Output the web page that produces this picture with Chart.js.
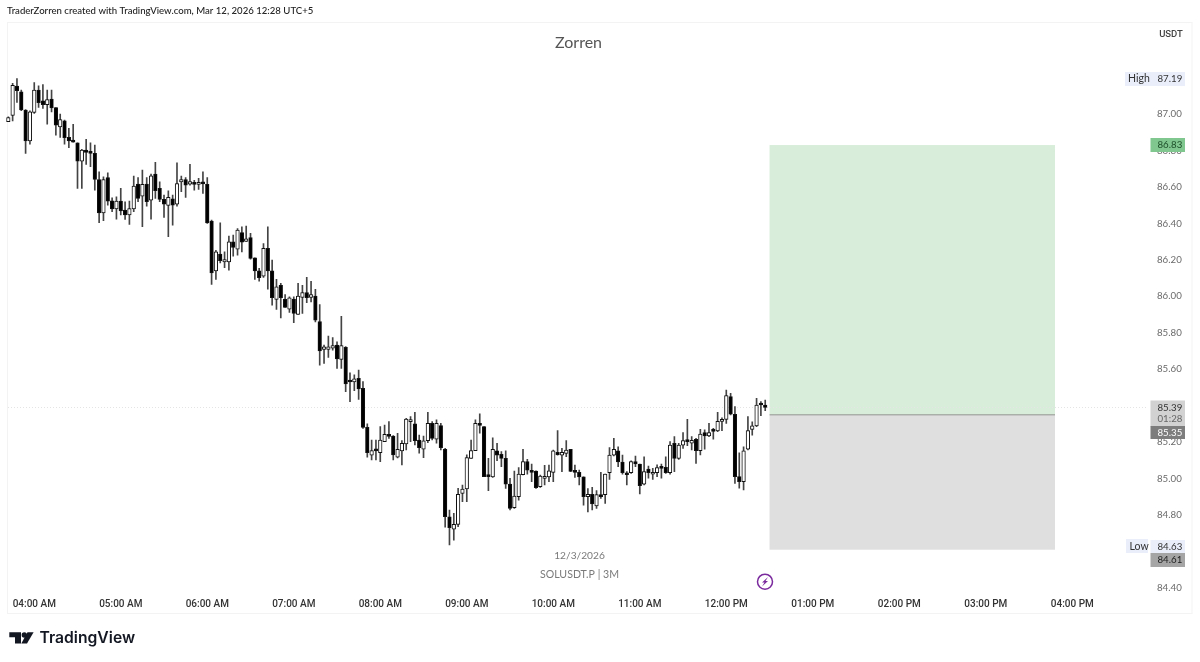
<!DOCTYPE html>
<html><head><meta charset="utf-8">
<style>html,body{margin:0;padding:0;background:#fff;overflow:hidden}canvas{display:block}</style>
<script src="https://cdn.jsdelivr.net/npm/chart.js@4"></script></head>
<body><canvas id="c" width="1200" height="662"></canvas>
<script>
const opens=[86.958,86.992,87.153,87.122,87.022,86.852,87.009,87.131,87.073,87.051,
87.082,87.036,86.930,86.963,86.872,86.857,86.842,86.742,86.802,86.791,
86.784,86.641,86.458,86.652,86.524,86.479,86.522,86.473,86.447,86.479,
86.616,86.550,86.616,86.528,86.671,86.592,86.532,86.499,86.535,86.506,
86.628,86.641,86.616,86.621,86.614,86.623,86.614,86.413,86.140,86.232,
86.189,86.189,86.299,86.259,86.350,86.301,86.323,86.211,86.140,86.111,
86.263,86.140,85.983,86.061,85.983,85.930,85.985,85.901,85.994,86.021,
85.994,86.001,85.862,85.709,85.709,85.716,85.732,85.654,85.720,85.536,
85.530,85.550,85.495,85.281,85.128,85.161,85.143,85.203,85.243,85.234,
85.117,85.152,85.190,85.313,85.300,85.212,85.161,85.208,85.303,85.217,
85.291,85.161,84.791,84.722,84.749,84.919,84.943,85.111,85.154,85.303,
85.285,85.015,85.010,85.153,85.133,85.111,84.970,84.840,84.901,85.021,
85.093,85.042,85.042,84.956,85.001,85.010,85.034,85.144,85.129,85.138,
85.160,85.043,85.034,85.010,84.901,84.914,84.850,84.912,84.912,85.032,
85.129,85.153,85.091,85.032,85.033,85.093,85.080,84.969,85.053,85.024,
85.033,85.060,85.062,85.033,85.194,85.111,85.183,85.210,85.194,85.216,
85.153,85.252,85.234,85.263,85.261,85.314,85.325,85.450,85.353,85.011,
84.983,85.161,85.270,85.289,85.409,85.404];
const closes=[86.980,87.157,87.128,87.022,86.852,87.012,87.131,87.062,87.051,87.080,
87.034,86.939,86.970,86.870,86.852,86.846,86.742,86.802,86.789,86.784,
86.641,86.458,86.641,86.522,86.479,86.522,86.469,86.447,86.482,86.605,
86.537,86.614,86.519,86.661,86.579,86.532,86.506,86.543,86.500,86.619,
86.641,86.610,86.630,86.614,86.621,86.617,86.403,86.129,86.244,86.195,
86.202,86.299,86.268,86.363,86.297,86.316,86.208,86.140,86.102,86.263,
86.140,85.992,86.052,85.992,85.939,85.992,85.906,86.001,86.021,85.992,
86.010,85.869,85.701,85.723,85.723,85.730,85.656,85.730,85.519,85.530,
85.548,85.492,85.281,85.143,85.154,85.152,85.212,85.243,85.232,85.130,
85.161,85.194,85.327,85.318,85.208,85.170,85.207,85.303,85.221,85.303,
85.170,84.791,84.731,84.749,84.914,84.943,85.115,85.154,85.303,85.292,
85.011,85.011,85.160,85.129,85.111,84.970,84.837,84.904,85.025,85.093,
85.047,85.034,84.950,85.014,85.012,85.043,85.153,85.131,85.144,85.157,
85.040,85.034,85.009,84.901,84.914,84.861,84.912,84.901,85.025,85.129,
85.160,85.091,85.032,85.021,85.093,85.080,84.961,85.038,85.033,85.035,
85.060,85.056,85.033,85.184,85.111,85.184,85.208,85.203,85.210,85.153,
85.245,85.234,85.252,85.259,85.314,85.325,85.455,85.353,85.011,84.983,
85.153,85.263,85.290,85.404,85.404,85.390];
const highs=[86.985,87.168,87.195,87.131,87.025,87.018,87.172,87.155,87.162,87.131,
87.131,87.036,87.000,86.967,86.921,86.943,86.842,86.806,86.862,86.842,
86.830,86.683,86.656,86.678,86.541,86.546,86.592,86.519,86.522,86.660,
86.652,86.692,86.652,86.671,86.735,86.628,86.555,86.579,86.555,86.733,
86.660,86.652,86.724,86.637,86.647,86.683,86.652,86.418,86.253,86.403,
86.244,86.330,86.336,86.372,86.381,86.385,86.345,86.211,86.153,86.290,
86.381,86.199,86.093,86.071,86.010,85.997,85.997,86.071,86.061,86.104,
86.083,86.038,85.955,85.732,85.782,85.774,85.751,85.891,85.724,85.581,
85.569,85.596,85.532,85.300,85.212,85.212,85.285,85.294,85.313,85.236,
85.249,85.208,85.331,85.340,85.364,85.239,85.234,85.364,85.313,85.322,
85.303,85.166,84.828,84.810,84.947,84.965,85.130,85.212,85.322,85.355,
85.285,85.111,85.224,85.193,85.148,85.153,85.001,85.042,85.060,85.160,
85.106,85.080,85.043,85.020,85.073,85.074,85.157,85.263,85.166,85.208,
85.160,85.074,85.047,85.010,84.946,84.952,84.934,85.034,85.025,85.170,
85.221,85.175,85.129,85.038,85.097,85.124,85.080,85.120,85.069,85.056,
85.075,85.080,85.120,85.203,85.230,85.194,85.252,85.325,85.230,85.221,
85.270,85.267,85.303,85.276,85.364,85.334,85.486,85.468,85.395,85.142,
85.175,85.340,85.312,85.440,85.422,85.431];
const lows=[86.958,86.963,87.064,87.018,86.784,86.835,87.003,87.036,87.031,86.945,
87.012,86.884,86.872,86.835,86.815,86.846,86.592,86.592,86.724,86.711,
86.583,86.404,86.415,86.500,86.464,86.424,86.446,86.422,86.394,86.464,
86.519,86.382,86.495,86.424,86.537,86.519,86.433,86.327,86.391,86.495,
86.574,86.543,86.610,86.583,86.586,86.564,86.400,86.065,86.093,86.184,
86.157,86.144,86.221,86.226,86.244,86.301,86.204,86.093,86.083,86.104,
86.040,85.952,85.928,85.882,85.939,85.912,85.855,85.901,85.906,85.965,
85.970,85.860,85.623,85.632,85.665,85.705,85.604,85.604,85.477,85.422,
85.483,85.435,85.276,85.117,85.102,85.102,85.093,85.203,85.221,85.102,
85.113,85.075,85.157,85.203,85.185,85.139,85.115,85.197,85.212,85.194,
85.157,84.733,84.636,84.663,84.737,84.874,84.874,85.111,85.154,85.249,
85.011,84.934,85.007,85.098,85.065,84.946,84.828,84.837,84.882,85.020,
85.025,84.983,84.946,84.952,84.965,84.983,84.983,85.129,85.038,85.120,
85.038,85.007,84.965,84.855,84.818,84.828,84.837,84.892,84.864,84.996,
85.124,85.065,85.025,84.965,85.029,85.066,84.916,84.965,85.002,84.996,
85.011,85.002,85.029,85.025,85.038,85.106,85.166,85.181,85.157,85.084,
85.130,85.162,85.230,85.216,85.258,85.263,85.303,85.349,84.974,84.947,
84.938,85.157,85.239,85.285,85.345,85.373];

const hourLabels=["04:00 AM","05:00 AM","06:00 AM","07:00 AM","08:00 AM","09:00 AM","10:00 AM","11:00 AM","12:00 PM","01:00 PM","02:00 PM","03:00 PM","04:00 PM"];
const slotCount=264, firstHourSlot=6, slotsPerHour=20;
const categories=Array.from({length:slotCount},(_,i)=>{
  const k=i-firstHourSlot; return (k>=0&&k%slotsPerHour===0)?(hourLabels[k/slotsPerHour]||''):'';
});
const targetPrice=86.83, entryPrice=85.35, stopPrice=84.61, lastPrice=85.39;
const positionSlots=[176,242];
const F='Roboto, "Open Sans", sans-serif';
const L='Lato, "Open Sans", sans-serif';

const extras={id:'extras',
  beforeDatasetsDraw(ch){
    const {ctx,scales:{x,y},chartArea:a}=ch;
    const x0=x.getPixelForValue(positionSlots[0]), x1=x.getPixelForValue(positionSlots[1]);
    ctx.save();
    ctx.fillStyle='#d8eeda';ctx.fillRect(x0,y.getPixelForValue(targetPrice),x1-x0,y.getPixelForValue(entryPrice)-y.getPixelForValue(targetPrice));
    ctx.fillStyle='#dfdfdf';ctx.fillRect(x0,y.getPixelForValue(entryPrice),x1-x0,y.getPixelForValue(stopPrice)-y.getPixelForValue(entryPrice));
    ctx.fillStyle='#8f938f';ctx.fillRect(x0,y.getPixelForValue(entryPrice)-0.5,x1-x0,1);
    ctx.strokeStyle='#e4e4e4';ctx.setLineDash([1,2]);ctx.lineWidth=1;
    const ly=Math.round(y.getPixelForValue(lastPrice))-.5;
    ctx.beginPath();ctx.moveTo(8,ly);ctx.lineTo(a.right,ly);ctx.stroke();
    ctx.restore();
  },
  beforeDraw(ch){
    const {ctx}=ch;ctx.save();
    ctx.strokeStyle='#f3f3f3';ctx.lineWidth=1;ctx.strokeRect(7.5,22.5,1184.5,591);
    ctx.restore();
  },
  afterDraw(ch){
    const {ctx}=ch;ctx.save();
    const txt=(s,x,yy,font,col,al='left')=>{ctx.font=font;ctx.fillStyle=col;ctx.textAlign=al;ctx.textBaseline='middle';ctx.fillText(s,x,yy);};
    const box=(x,yy,w,h,c)=>{ctx.fillStyle=c;ctx.fillRect(x,yy,w,h);};
    const lab='9.7px '+L;
    txt('TraderZorren created with TradingView.com, Mar 12, 2026 12:28 UTC+5',7,11,'500 9.6px '+L,'#222');
    txt('Zorren',578.5,42.5,'16px '+L,'#555','center');
    txt('12/3/2026',579.5,555.5,'10.2px '+L,'#7a7a7a','center');
    txt('SOLUSDT.P | 3M',579.5,574.5,'10.6px '+L,'#7a7a7a','center');
    box(1154,25,36,20,'#ffffff');
    txt('USDT',1171,35,'500 9.5px '+F,'#444','center');
    box(1125,72,60,14,'#e9eefa');
    txt('High',1128,78.5,'10.5px '+L,'#333');txt('87.19',1157.5,79,lab,'#333');
    box(1150.5,138,34.5,14,'#7fc78f');txt('86.83',1157.5,145,lab,'#1f4f2a');
    box(1150.5,400.5,34.5,26,'#d2d2d2');box(1150.5,426,34.5,13,'#7d7d7d');
    txt('85.39',1157.5,408,lab,'#333');txt('01:28',1157.5,419,lab,'#666');txt('85.35',1157.5,432.5,lab,'#fff');
    box(1126,539,22,14,'#e9eefa');box(1150.5,540,34.5,13,'#e9eefa');
    txt('Low',1129.5,546.5,'10.5px '+L,'#333');txt('84.63',1157.5,547,lab,'#333');
    box(1150.5,553,34.5,14,'#a5a5a5');txt('84.61',1157.5,560,lab,'#222');
    ctx.strokeStyle='#7b2a9e';ctx.lineWidth=1.5;ctx.beginPath();ctx.arc(765,581.7,7.5,0,Math.PI*2);ctx.stroke();
    ctx.fillStyle='#7b2a9e';ctx.beginPath();
    [[768,577],[762,582.5],[764.5,582.5],[762,586.5],[768,581],[765.5,581]].forEach((p,i)=>i?ctx.lineTo(p[0],p[1]):ctx.moveTo(p[0],p[1]));
    ctx.closePath();ctx.fill();
    ctx.fillStyle='#131722';
    ctx.beginPath();[[9.3,632.3],[21,632.3],[21,643.5],[15,643.5],[15,637.3],[9.3,637.3]].forEach((p,i)=>i?ctx.lineTo(p[0],p[1]):ctx.moveTo(p[0],p[1]));ctx.closePath();ctx.fill();
    ctx.beginPath();ctx.arc(24.3,635,2.7,0,Math.PI*2);ctx.fill();
    ctx.beginPath();[[27.5,632.3],[33.6,632.3],[27,643.5],[21.3,643.5]].forEach((p,i)=>i?ctx.lineTo(p[0],p[1]):ctx.moveTo(p[0],p[1]));ctx.closePath();ctx.fill();
    txt('TradingView',39.5,638,'600 15.7px Inter, sans-serif','#131722');
    ctx.restore();
  }
};

new Chart(document.getElementById('c'),{
  type:'bar',
  data:{labels:categories,datasets:[
    {label:'Wick',data:highs.map((h,i)=>[lows[i],h]),backgroundColor:'#444',borderWidth:0,barThickness:1,order:2,grouped:false},
    {label:'Body',data:opens.map((o,i)=>[o,closes[i]]),
      backgroundColor:opens.map((o,i)=>closes[i]>=o?'#ffffff':'#000000'),
      borderColor:'#111',borderWidth:1,borderSkipped:false,barThickness:3.6,minBarLength:2,order:1,grouped:false}
  ]},
  plugins:[extras],
  options:{
    responsive:false,animation:false,events:[],
    layout:{padding:{left:6.14,top:22,right:0,bottom:0}},
    plugins:{legend:{display:false},tooltip:{enabled:false}},
    scales:{
      x:{offset:true,grid:{display:false,drawTicks:false},border:{display:false},
        afterFit(s){s.height=70;},
        ticks:{autoSkip:false,maxRotation:0,minRotation:0,padding:6,color:'#333',font:{family:F,size:10,weight:'500'},
          callback(v){return categories[v]||'';}}},
      y:{position:'right',min:84.378,max:87.505,grid:{display:false,drawTicks:false},border:{display:false},
        afterFit(s){s.width=52;},
        ticks:{stepSize:0.2,includeBounds:false,padding:9,color:'#6a6a6a',font:{family:L,size:9.7},
          callback(v){return Number(v).toFixed(2);}}}
    }
  }
});
</script></body></html>
